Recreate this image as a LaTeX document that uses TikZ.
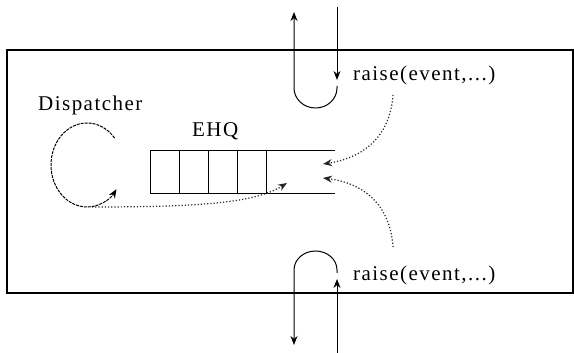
\documentclass[tikz,border=0pt]{standalone}
\usepackage{fontspec}
\setmainfont{Liberation Serif}
\newfontfamily\lblfont[LetterSpace=7]{Liberation Serif}
\usetikzlibrary{arrows.meta}
\begin{document}
\begin{tikzpicture}[x=1pt,y=1pt,
  lbl/.style={inner sep=0pt,anchor=base west,font=\lblfont\fontsize{21}{24}\selectfont},
  solid line/.style={line width=1pt,black},
  tip/.style={-{Stealth[length=9pt,width=7pt]}},
  dots/.style={line width=1.2pt,dotted,black!85},
  q/.style={line width=1pt}]
\useasboundingbox (0,0) rectangle (574,353);
% frame
\draw[line width=1.1pt] (7,60) rectangle (573,303);
% labels
\node[lbl] (disp) at (38,242) {Dispatcher};
\node[lbl] (ehq) at (192,216) {EHQ};
\node[lbl] (r1) at (353,272) {raise(event,...)};
\node[lbl] (r2) at (353,72) {raise(event,...)};
% queue
\coordinate (qtl) at (150,202);
\coordinate (qbl) at (150,159);
\coordinate (qtr) at (335,202);
\coordinate (qbr) at (335,159);
\draw[q] (qtr) -- (qtl) -- (qbl) -- (qbr);
\foreach \x in {179,208,237,266} \draw[q] (\x,202) -- (\x,159);
% top loop
\coordinate (tin) at (337,346);
\coordinate (ttip) at (337,273);
\coordinate (tout) at (294,341);
\draw[solid line,tip] (tin) -- (ttip);
\draw[solid line,tip] (337,267) -- (337,265) arc[start angle=0,end angle=-180,x radius=21.5,y radius=20] -- (tout);
% bottom loop
\coordinate (bin) at (337,0);
\coordinate (btip) at (337,74);
\coordinate (bout) at (294,8);
\draw[solid line,tip] (bin) -- (btip);
\draw[solid line,tip] (337,80) -- (337,83) arc[start angle=0,end angle=180,x radius=21.5,y radius=19] -- (bout);
% dispatcher loop
\draw[line width=1pt,dash pattern=on 3pt off 1pt,tip] (87,188) ++(40:36 and 42) arc[start angle=40,end angle=325,x radius=36,y radius=42];
% dotted flows
\coordinate (dstart) at (92,146);
\coordinate (qin) at (287,170);
\draw[dots,tip] (dstart) .. controls (200,146) and (255,150) .. (qin);
\coordinate (s1) at (393,258);
\coordinate (e1) at (323,189);
\draw[dots,tip] (s1) .. controls (390,215) and (362,195) .. (e1);
\coordinate (s2) at (393,106);
\coordinate (e2) at (323,175);
\draw[dots,tip] (s2) .. controls (390,150) and (362,170) .. (e2);
\end{tikzpicture}
\end{document}
